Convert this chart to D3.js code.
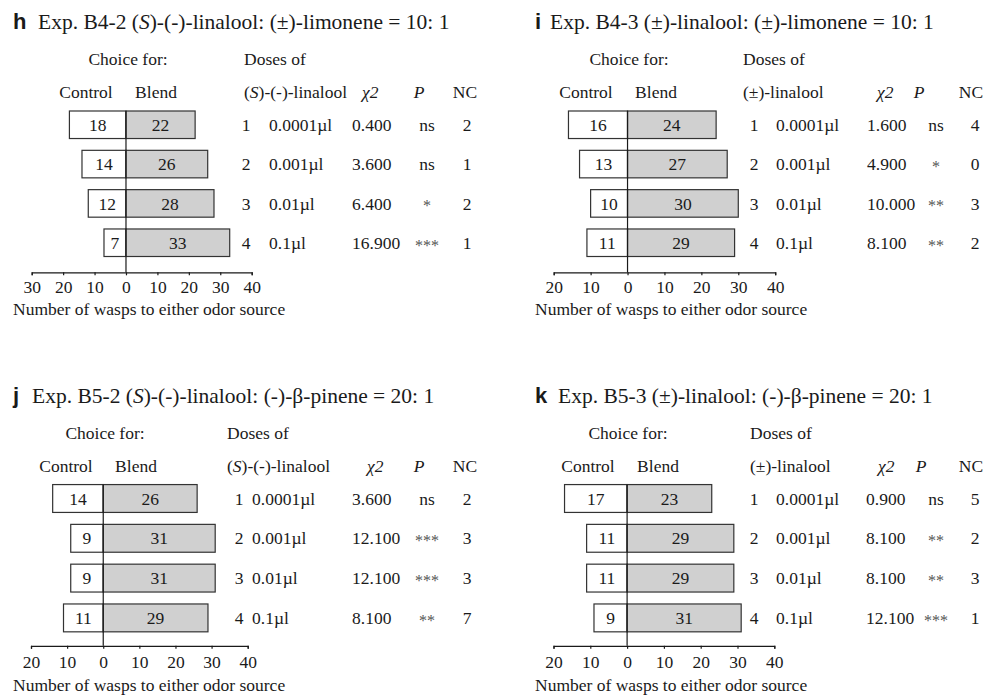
<!DOCTYPE html>
<html><head><meta charset="utf-8">
<script src="https://cdn.jsdelivr.net/npm/d3@7/dist/d3.min.js"></script>
<style>
body{margin:0;background:#fff;}
text{font-family:"Liberation Serif","Times New Roman",serif;fill:#1a1a1a;}
.lab{font-family:"Liberation Sans",Arial,sans-serif;font-weight:bold;}
</style></head>
<body><svg id="c" width="1001" height="697"></svg>
<script>
// ---------- data ----------
const doses = ["0.0001µl", "0.001µl", "0.01µl", "0.1µl"];
const doseIdx = ["1", "2", "3", "4"];

const controlH = [18, 14, 12, 7];
const blendH = [22, 26, 28, 33];
const chiH = ["0.400", "3.600", "6.400", "16.900"];
const pH = ["ns", "ns", "*", "***"];
const ncH = ["2", "1", "2", "1"];

const controlI = [16, 13, 10, 11];
const blendI = [24, 27, 30, 29];
const chiI = ["1.600", "4.900", "10.000", "8.100"];
const pI = ["ns", "*", "**", "**"];
const ncI = ["4", "0", "3", "2"];

const controlJ = [14, 9, 9, 11];
const blendJ = [26, 31, 31, 29];
const chiJ = ["3.600", "12.100", "12.100", "8.100"];
const pJ = ["ns", "***", "***", "**"];
const ncJ = ["2", "3", "3", "7"];

const controlK = [17, 11, 11, 9];
const blendK = [23, 29, 29, 31];
const chiK = ["0.900", "8.100", "8.100", "12.100"];
const pK = ["ns", "**", "**", "***"];
const ncK = ["5", "2", "3", "1"];

const ticksH = [-30, -20, -10, 0, 10, 20, 30, 40];
const ticksOther = [-20, -10, 0, 10, 20, 30, 40];

// ---------- layout ----------
const svg = d3.select("#c");
const FS = 17.5;

const panels = [
  {letter:"h", title:[["Exp. B4-2 (",0],["S",1],[")-(-)-linalool: (±)-limonene = 10: 1",0]],
   dosesName:[["(",0],["S",1],[")-(-)-linalool",0]],
   control:controlH, blend:blendH, chi:chiH, p:pH, nc:ncH, ticks:ticksH,
   xr:[31.7, 251.7], band:[105.1, 262.4], axisY:272.3, tickBase:293.5, axTitle:314.5,
   tY:28.5, cY:65, hY:97.5, lx:13, tx:38,
   choiceC:128, controlC:86, blendC:156, dosesX:244, chiHX:362, pHC:419, ncHC:465,
   idxC:246, doseX:269, chiX:352, pC:427, ncC:467},
  {letter:"i", title:[["Exp. B4-3 (±)-linalool: (±)-limonene = 10: 1",0]],
   dosesName:[["(±)-linalool",0]],
   control:controlI, blend:blendI, chi:chiI, p:pI, nc:ncI, ticks:ticksOther,
   xr:[553.7, 775.2], band:[105.1, 262.4], axisY:272.3, tickBase:293.5, axTitle:314.5,
   tY:28.5, cY:65, hY:97.5, lx:535, tx:550,
   choiceC:629, controlC:586, blendC:656, dosesX:743, chiHX:877, pHC:919, ncHC:971,
   idxC:754, doseX:776, chiX:867, pC:936, ncC:975},
  {letter:"j", title:[["Exp. B5-2 (",0],["S",1],[")-(-)-linalool: (-)-β-pinene = 20: 1",0]],
   dosesName:[["(",0],["S",1],[")-(-)-linalool",0]],
   control:controlJ, blend:blendJ, chi:chiJ, p:pJ, nc:ncJ, ticks:ticksOther,
   xr:[31, 247.7], band:[478.6, 637.8], axisY:645.8, tickBase:668.5, axTitle:690.5,
   tY:403.3, cY:439, hY:471.6, lx:13, tx:32,
   choiceC:105, controlC:66, blendC:136, dosesX:227, chiHX:367, pHC:419, ncHC:465,
   idxC:239, doseX:252, chiX:352, pC:427, ncC:467},
  {letter:"k", title:[["Exp. B5-3 (±)-linalool: (-)-β-pinene = 20: 1",0]],
   dosesName:[["(±)-linalool",0]],
   control:controlK, blend:blendK, chi:chiK, p:pK, nc:ncK, ticks:ticksOther,
   xr:[553.5, 774.3], band:[478.6, 637.8], axisY:645.8, tickBase:668.5, axTitle:690.5,
   tY:403.3, cY:439, hY:471.6, lx:535, tx:558,
   choiceC:628, controlC:588, blendC:658, dosesX:750, chiHX:878, pHC:921, ncHC:971,
   idxC:754, doseX:776, chiX:866, pC:936, ncC:975}
];

function rich(g, x, y, parts, size, anchor) {
  const t = g.append("text").attr("x", x).attr("y", y).style("font-size", size + "px")
    .attr("text-anchor", anchor || "start");
  parts.forEach(([s, it]) => {
    const ts = t.append("tspan").text(s);
    if (it) ts.style("font-style", "italic");
  });
  return t;
}

panels.forEach(P => {
  const g = svg.append("g");
  const x = d3.scaleLinear().domain([P.ticks[0], 40]).range(P.xr);
  const y = d3.scaleBand().domain(d3.range(4)).range(P.band).paddingInner(0.3).paddingOuter(0.15);

  // title
  g.append("text").attr("class", "lab").attr("x", P.lx).attr("y", P.tY)
    .style("font-size", "22px").text(P.letter);
  rich(g, P.tx, P.tY, P.title, 21.5);

  // headers
  rich(g, P.choiceC, P.cY, [["Choice for:",0]], FS, "middle");
  rich(g, P.controlC, P.hY, [["Control",0]], FS, "middle");
  rich(g, P.blendC, P.hY, [["Blend",0]], FS, "middle");
  rich(g, P.dosesX, P.cY, [["Doses of",0]], FS);
  rich(g, P.dosesX, P.hY, P.dosesName, FS);
  rich(g, P.chiHX, P.hY, [["χ2",1]], FS);
  rich(g, P.pHC, P.hY, [["P",1]], FS, "middle");
  rich(g, P.ncHC, P.hY, [["NC",0]], FS, "middle");

  const rows = d3.range(4);
  // control bars
  g.selectAll(".cb").data(rows).join("rect")
    .attr("x", i => x(-P.control[i])).attr("y", i => y(i))
    .attr("width", i => x(0) - x(-P.control[i])).attr("height", y.bandwidth())
    .attr("fill", "#fff").attr("stroke", "#333").attr("stroke-width", 1.2);
  // blend bars
  g.selectAll(".bb").data(rows).join("rect")
    .attr("x", x(0)).attr("y", i => y(i))
    .attr("width", i => x(P.blend[i]) - x(0)).attr("height", y.bandwidth())
    .attr("fill", "#d0d0d0").attr("stroke", "#333").attr("stroke-width", 1.2);

  const cy = i => y(i) + y.bandwidth() / 2;
  const rowText = (fn, xf, anchor) => g.selectAll(null).data(rows).join("text")
    .attr("x", xf).attr("y", cy).attr("dy", "0.35em")
    .attr("text-anchor", anchor).style("font-size", FS + "px").text(fn);

  rowText(i => P.control[i], i => (x(-P.control[i]) + x(0)) / 2, "middle");
  rowText(i => P.blend[i], i => (x(P.blend[i]) + x(0)) / 2, "middle");
  rowText(i => doseIdx[i], P.idxC, "middle");
  rowText(i => doses[i], P.doseX, "start");
  rowText(i => P.chi[i], P.chiX, "start");
  g.selectAll(null).data(rows).join("text")
    .attr("x", P.pC).attr("y", cy)
    .attr("dy", i => P.p[i] === "ns" ? "0.35em" : "0.5em")
    .attr("text-anchor", "middle")
    .style("font-size", i => P.p[i] === "ns" ? FS + "px" : "16px")
    .style("fill", i => P.p[i] === "ns" ? "#1a1a1a" : "#555")
    .text(i => P.p[i]);
  rowText(i => P.nc[i], P.ncC, "middle");

  // zero line
  g.append("line").attr("x1", x(0)).attr("x2", x(0))
    .attr("y1", y(0)).attr("y2", P.axisY)
    .attr("stroke", "#1a1a1a").attr("stroke-width", 1.2);

  // axis
  const ax = g.append("g").attr("transform", `translate(0,${P.axisY})`)
    .call(d3.axisBottom(x).tickValues(P.ticks).tickFormat(d => Math.abs(d))
      .tickSize(3).tickSizeOuter(3).tickPadding(P.tickBase - P.axisY - 3 - 0.71 * FS));
  ax.selectAll("path,line").attr("stroke", "#1a1a1a").attr("stroke-width", 1.2);
  ax.selectAll("text").style("font-size", FS + "px")
    .style("font-family", '"Liberation Serif","Times New Roman",serif').attr("fill", "#1a1a1a");

  rich(g, P.lx, P.axTitle, [["Number of wasps to either odor source",0]], FS);
});
</script>
</body></html>
